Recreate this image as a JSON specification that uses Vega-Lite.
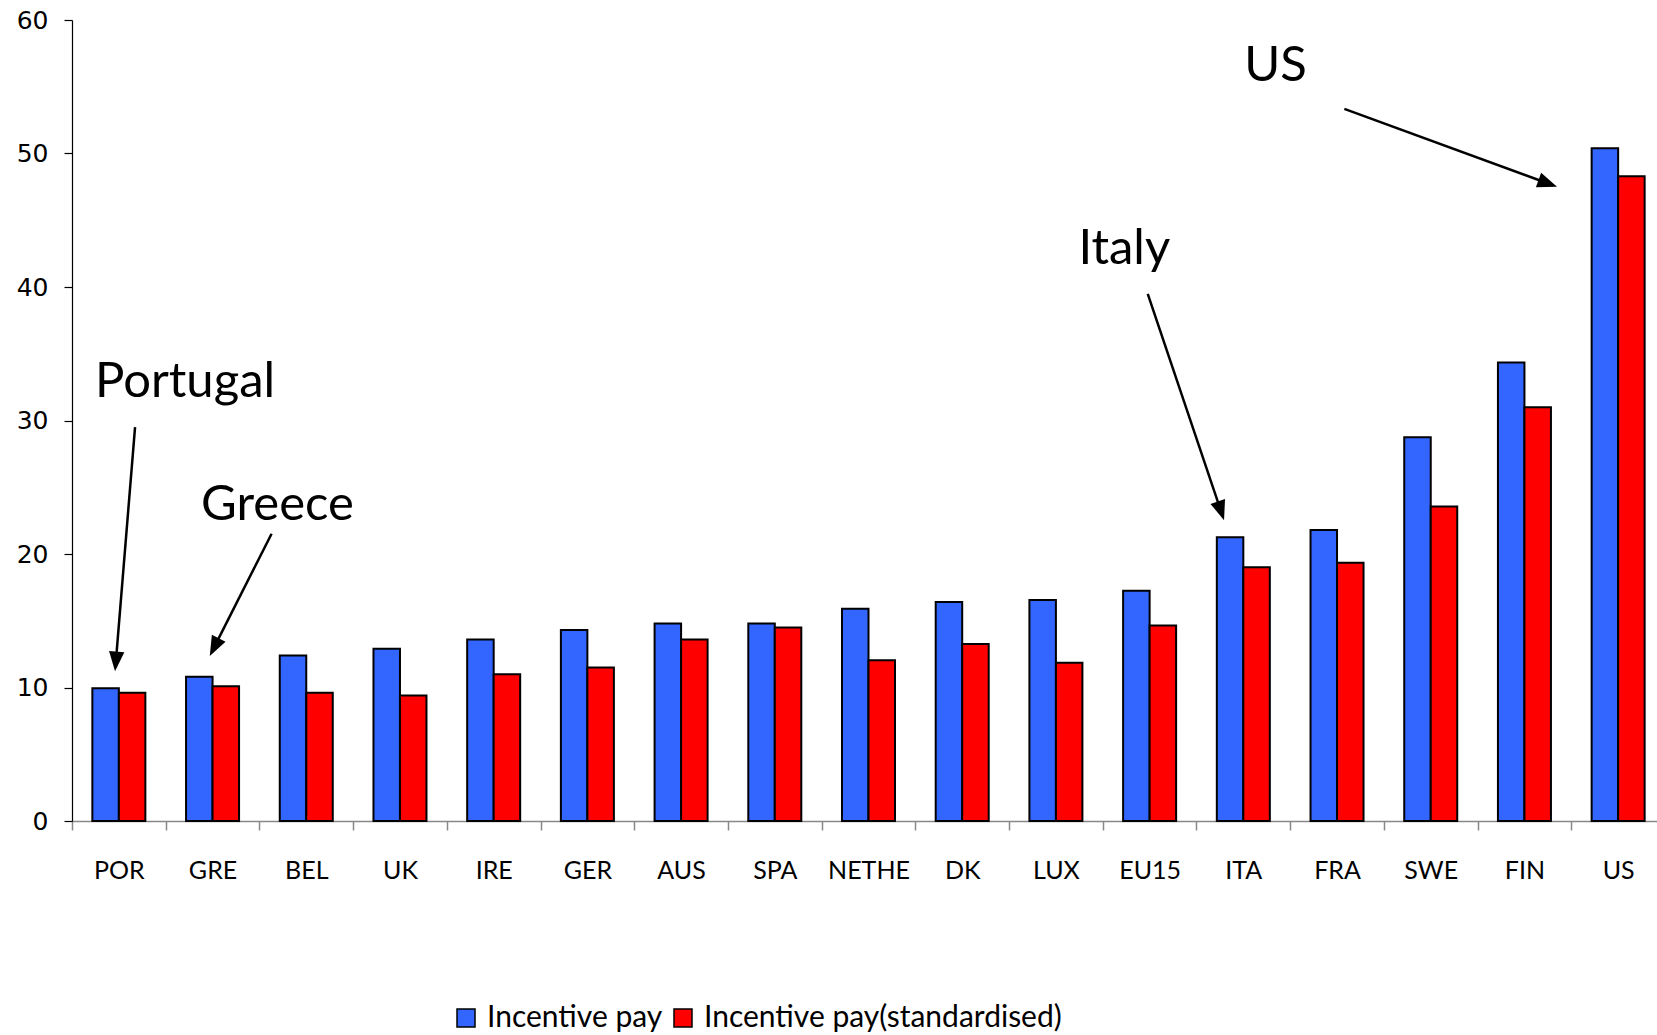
{
  "$schema": "https://vega.github.io/schema/vega-lite/v6.json",
  "width": 1585,
  "height": 801,
  "autosize": {"type": "none"},
  "padding": {"left": 72, "top": 20, "right": 0, "bottom": 214},
  "background": "white",
  "config": {"view": {"stroke": null}, "axis": {"grid": false}},
  "datasets": {
    "pay": [
      {"country": "POR", "series": "Incentive pay", "value": 9.95},
      {"country": "POR", "series": "Incentive pay(standardised)", "value": 9.6},
      {"country": "GRE", "series": "Incentive pay", "value": 10.8},
      {"country": "GRE", "series": "Incentive pay(standardised)", "value": 10.1},
      {"country": "BEL", "series": "Incentive pay", "value": 12.4},
      {"country": "BEL", "series": "Incentive pay(standardised)", "value": 9.6},
      {"country": "UK", "series": "Incentive pay", "value": 12.9},
      {"country": "UK", "series": "Incentive pay(standardised)", "value": 9.4},
      {"country": "IRE", "series": "Incentive pay", "value": 13.6},
      {"country": "IRE", "series": "Incentive pay(standardised)", "value": 11.0},
      {"country": "GER", "series": "Incentive pay", "value": 14.3},
      {"country": "GER", "series": "Incentive pay(standardised)", "value": 11.5},
      {"country": "AUS", "series": "Incentive pay", "value": 14.8},
      {"country": "AUS", "series": "Incentive pay(standardised)", "value": 13.6},
      {"country": "SPA", "series": "Incentive pay", "value": 14.8},
      {"country": "SPA", "series": "Incentive pay(standardised)", "value": 14.5},
      {"country": "NETHE", "series": "Incentive pay", "value": 15.9},
      {"country": "NETHE", "series": "Incentive pay(standardised)", "value": 12.05},
      {"country": "DK", "series": "Incentive pay", "value": 16.4},
      {"country": "DK", "series": "Incentive pay(standardised)", "value": 13.25},
      {"country": "LUX", "series": "Incentive pay", "value": 16.55},
      {"country": "LUX", "series": "Incentive pay(standardised)", "value": 11.85},
      {"country": "EU15", "series": "Incentive pay", "value": 17.25},
      {"country": "EU15", "series": "Incentive pay(standardised)", "value": 14.65},
      {"country": "ITA", "series": "Incentive pay", "value": 21.25},
      {"country": "ITA", "series": "Incentive pay(standardised)", "value": 19.0},
      {"country": "FRA", "series": "Incentive pay", "value": 21.8},
      {"country": "FRA", "series": "Incentive pay(standardised)", "value": 19.35},
      {"country": "SWE", "series": "Incentive pay", "value": 28.75},
      {"country": "SWE", "series": "Incentive pay(standardised)", "value": 23.55},
      {"country": "FIN", "series": "Incentive pay", "value": 34.35},
      {"country": "FIN", "series": "Incentive pay(standardised)", "value": 31.0},
      {"country": "US", "series": "Incentive pay", "value": 50.4},
      {"country": "US", "series": "Incentive pay(standardised)", "value": 48.3}
    ],
    "notes": [
      {"label": "Portugal", "tx": 0.246, "ty": 31.76},
      {"label": "Greece", "tx": 1.377, "ty": 22.55},
      {"label": "Italy", "tx": 10.74, "ty": 41.72},
      {"label": "US", "tx": 12.51, "ty": 55.4}
    ],
    "arrows": [
      {"name": "Portugal", "x1": 0.673, "y1": 29.51, "cx": 0.4691, "cy": 12.03, "ang": 184.8},
      {"name": "Greece", "x1": 2.13, "y1": 21.52, "cx": 1.5232, "cy": 13.1, "ang": 206.86},
      {"name": "Italy", "x1": 11.48, "y1": 39.49, "cx": 12.257, "cy": 23.31, "ang": 161.4},
      {"name": "US", "x1": 13.578, "y1": 53.34, "cx": 15.738, "cy": 47.79, "ang": 110.1}
    ]
  },
  "layer": [
    {
      "data": {"name": "pay"},
      "mark": {"type": "bar", "stroke": "black", "strokeWidth": 2},
      "encoding": {
        "x": {
          "field": "country",
          "type": "nominal",
          "sort": null,
          "scale": {"range": [0, 1593], "paddingInner": 0, "paddingOuter": 0},
          "axis": {
            "title": null,
            "labelAngle": 0,
            "labelFont": "Lato",
            "labelFontSize": 25,
            "labelColor": "black",
            "labelPadding": 28,
            "tickSize": 9,
            "tickWidth": 1.5,
            "tickColor": "#888888",
            "tickBand": "extent",
            "domainColor": "#888888",
            "domainWidth": 1.5
          }
        },
        "xOffset": {
          "field": "series",
          "type": "nominal",
          "sort": null,
          "scale": {"paddingInner": 0, "paddingOuter": 0.768}
        },
        "y": {
          "field": "value",
          "type": "quantitative",
          "title": null,
          "scale": {"domain": [0, 60], "nice": false},
          "axis": {
            "title": null,
            "values": [0, 10, 20, 30, 40, 50, 60],
            "labelFont": "DejaVu Sans",
            "labelFontSize": 25,
            "labelColor": "black",
            "labelPadding": 16,
            "tickSize": 8,
            "tickWidth": 1.2,
            "tickColor": "black",
            "domainColor": "black",
            "domainWidth": 1.2
          }
        },
        "color": {
          "field": "series",
          "type": "nominal",
          "scale": {
            "domain": ["Incentive pay", "Incentive pay(standardised)"],
            "range": ["#3366FF", "#FF0000"]
          },
          "legend": {
            "orient": "none",
            "legendX": 379,
            "legendY": 983,
            "direction": "horizontal",
            "title": null,
            "symbolType": "square",
            "symbolSize": 324,
            "symbolStrokeColor": "black",
            "symbolStrokeWidth": 1.5,
            "symbolOpacity": 1,
            "labelFont": "Lato",
            "labelFontSize": 30,
            "labelColor": "black",
            "labelOffset": 6,
            "columnPadding": 5,
            "labelLimit": 600,
            "padding": 0
          }
        }
      }
    },
    {
      "data": {"name": "arrows"},
      "mark": {"type": "rule", "color": "black", "strokeWidth": 2.5},
      "encoding": {
        "x": {"field": "x1", "type": "quantitative", "scale": {"domain": [0, 17], "range": [0, 1593], "nice": false, "zero": false}, "axis": null},
        "x2": {"field": "cx"},
        "y": {"field": "y1", "type": "quantitative", "title": null},
        "y2": {"field": "cy"}
      }
    },
    {
      "data": {"name": "arrows"},
      "mark": {"type": "point", "shape": "M0,-1L0.7,0.8L-0.7,0.8Z", "filled": true, "color": "black", "opacity": 1, "size": 480, "strokeWidth": 0},
      "encoding": {
        "x": {"field": "cx", "type": "quantitative", "scale": {"domain": [0, 17], "range": [0, 1593], "nice": false, "zero": false}, "axis": null},
        "y": {"field": "cy", "type": "quantitative", "title": null},
        "angle": {"field": "ang", "type": "quantitative", "scale": null}
      }
    },
    {
      "data": {"name": "notes"},
      "mark": {"type": "text", "align": "left", "baseline": "alphabetic", "font": "Lato", "fontSize": 49, "color": "black"},
      "encoding": {
        "x": {"field": "tx", "type": "quantitative", "scale": {"domain": [0, 17], "range": [0, 1593], "nice": false, "zero": false}, "axis": null},
        "y": {"field": "ty", "type": "quantitative", "title": null},
        "text": {"field": "label"}
      }
    }
  ],
  "resolve": {"scale": {"x": "independent"}}
}
